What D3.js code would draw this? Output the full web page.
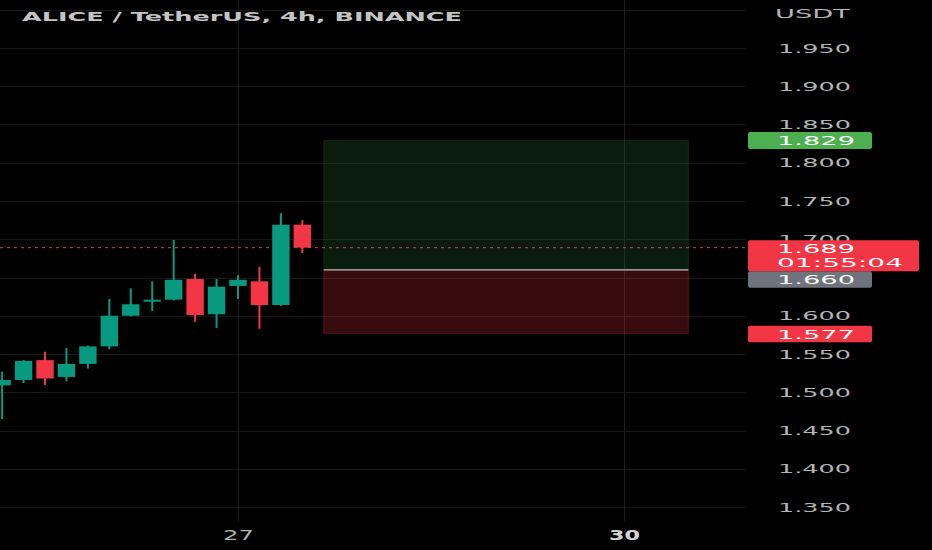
<!DOCTYPE html>
<html>
<head>
<meta charset="utf-8">
<script src="https://cdn.jsdelivr.net/npm/d3@7"></script>
<style>
  html, body { margin: 0; padding: 0; background: #000; overflow: hidden; }
  svg { display: block; }
</style>
</head>
<body>
<svg id="chart" width="932" height="550"></svg>
<script>
// ---------- DATA ----------
const candleTimes = ["2024-01-25T04:00","2024-01-25T08:00","2024-01-25T12:00","2024-01-25T16:00","2024-01-25T20:00",
  "2024-01-26T00:00","2024-01-26T04:00","2024-01-26T08:00","2024-01-26T12:00","2024-01-26T16:00","2024-01-26T20:00",
  "2024-01-27T00:00","2024-01-27T04:00","2024-01-27T08:00","2024-01-27T12:00"];
const opens  = [1.509, 1.516, 1.542, 1.520, 1.537, 1.560, 1.600, 1.619, 1.621, 1.648, 1.602, 1.639, 1.645, 1.614, 1.719];
const highs  = [1.527, 1.542, 1.553, 1.558, 1.561, 1.622, 1.636, 1.645, 1.699, 1.655, 1.648, 1.653, 1.664, 1.734, 1.725];
const lows   = [1.465, 1.512, 1.509, 1.514, 1.531, 1.556, 1.599, 1.606, 1.620, 1.592, 1.584, 1.622, 1.583, 1.613, 1.682];
const closes = [1.516, 1.541, 1.518, 1.537, 1.560, 1.600, 1.615, 1.621, 1.647, 1.601, 1.638, 1.647, 1.614, 1.719, 1.689];

const gridPrices = [1.35, 1.40, 1.45, 1.50, 1.55, 1.60, 1.65, 1.70, 1.75, 1.80, 1.85, 1.90, 1.95, 2.00];
const priceTickLabels = [1.35, 1.40, 1.45, 1.50, 1.55, 1.60, 1.70, 1.75, 1.80, 1.85, 1.90, 1.95];
const dateTicks = ["2024-01-27T00:00", "2024-01-30T00:00"];
const dateTickLabels = ["27", "30"];
const dateTickBold = [false, true];

const title = "ALICE / TetherUS, 4h, BINANCE";
const currency = "USDT";
const lastPrice = 1.689;
const countdown = "01:55:04";
const positionEntry = 1.660;
const positionTarget = 1.829;
const positionStop = 1.577;
const positionStart = "2024-01-27T16:00";
const positionEnd = "2024-01-30T12:00";

// ---------- SETUP ----------
const parse = d3.utcParse("%Y-%m-%dT%H:%M");
const candles = candleTimes.map((t, i) => ({
  t: parse(t), o: opens[i], h: highs[i], l: lows[i], c: closes[i]
}));

const svg = d3.select("#chart");
const W = 932, H = 550;
const plotRight = 746;

svg.append("rect").attr("width", W).attr("height", H).attr("fill", "#000");

const x = d3.scaleUtc()
  .domain([parse("2024-01-27T00:00"), parse("2024-01-30T00:00")])
  .range([238, 624]);
const y = d3.scaleLinear().domain([1.35, 1.95]).range([507, 48]);

const GREEN = "#089981", RED = "#F23645";
const step = x(parse("2024-01-27T04:00")) - x(parse("2024-01-27T00:00"));
const bodyW = step * 0.81;

// ---------- GRID ----------
const grid = svg.append("g").attr("class", "grid").attr("shape-rendering", "crispEdges");
gridPrices.forEach(v => {
  grid.append("rect")
    .attr("x", 0).attr("width", plotRight)
    .attr("y", Math.round(y(v))).attr("height", 1)
    .attr("fill", "#181818");
});
dateTicks.forEach(d => {
  grid.append("rect")
    .attr("x", Math.round(x(parse(d)))).attr("width", 1)
    .attr("y", 0).attr("height", 522)
    .attr("fill", "#1c1c1c");
});

// ---------- POSITION TOOL ----------
const px1 = x(parse(positionStart)), px2 = x(parse(positionEnd));
svg.append("rect")
  .attr("x", px1).attr("width", px2 - px1)
  .attr("y", y(positionTarget)).attr("height", y(positionEntry) - y(positionTarget))
  .attr("fill", "rgba(40,115,45,0.24)").attr("stroke", "rgba(60,130,60,0.22)").attr("stroke-width", 1);
svg.append("rect")
  .attr("x", px1).attr("width", px2 - px1)
  .attr("y", y(positionEntry)).attr("height", y(positionStop) - y(positionEntry))
  .attr("fill", "rgba(225,45,60,0.25)").attr("stroke", "rgba(225,45,60,0.3)").attr("stroke-width", 1);
svg.append("line")
  .attr("x1", px1).attr("x2", px2)
  .attr("y1", y(positionEntry)).attr("y2", y(positionEntry))
  .attr("stroke", "#b8b8b8").attr("stroke-width", 1.2);

// ---------- CURRENT PRICE LINE ----------
svg.append("line")
  .attr("x1", 0).attr("x2", plotRight)
  .attr("y1", y(lastPrice)).attr("y2", y(lastPrice))
  .attr("stroke", "#d0404f").attr("stroke-width", 1)
  .attr("stroke-dasharray", "3,4");

// ---------- CANDLES ----------
const cg = svg.append("g");
const cs = cg.selectAll("g.c").data(candles).join("g").attr("class", "c");
cs.append("line")
  .attr("x1", d => x(d.t)).attr("x2", d => x(d.t))
  .attr("y1", d => y(d.h)).attr("y2", d => y(d.l))
  .attr("stroke", d => d.c >= d.o ? GREEN : RED).attr("stroke-width", 2);
cs.append("rect")
  .attr("x", d => x(d.t) - bodyW / 2).attr("width", bodyW)
  .attr("y", d => y(Math.max(d.o, d.c)))
  .attr("height", d => Math.max(2, Math.abs(y(d.o) - y(d.c))))
  .attr("fill", d => d.c >= d.o ? GREEN : RED);

// ---------- AXES ----------
const FONT = "'DejaVu Sans', Verdana, sans-serif";
const yAxis = d3.axisRight(y).tickValues(priceTickLabels)
  .tickFormat(d3.format(".3f")).tickSize(0).tickPadding(0);
const yg = svg.append("g").attr("transform", "translate(778,0)").call(yAxis);
yg.select(".domain").remove();
yg.selectAll(".tick line").remove();
yg.selectAll("text")
  .attr("fill", "#b4b4b4").attr("font-family", FONT).attr("font-size", 13)
  .attr("textLength", 73).attr("lengthAdjust", "spacingAndGlyphs");

svg.append("text").text(currency)
  .attr("x", 775).attr("y", 18)
  .attr("fill", "#b4b4b4").attr("font-family", FONT).attr("font-size", 13)
  .attr("textLength", 75).attr("lengthAdjust", "spacingAndGlyphs");

const xAxis = d3.axisBottom(x).tickValues(dateTicks.map(parse))
  .tickFormat((d, i) => dateTickLabels[i]).tickSize(0).tickPadding(0);
const xg = svg.append("g").attr("transform", "translate(0,530)").call(xAxis);
xg.select(".domain").remove();
xg.selectAll(".tick line").remove();
xg.selectAll("text")
  .attr("fill", (d, i) => dateTickBold[i] ? "#d4d4d4" : "#b4b4b4")
  .attr("font-family", FONT).attr("font-size", 13.5)
  .attr("font-weight", (d, i) => dateTickBold[i] ? "bold" : "normal")
  .attr("textLength", 31).attr("lengthAdjust", "spacingAndGlyphs");

// ---------- PRICE LABELS ----------
function priceLabel(yc, h, w, fill, lines) {
  const g = svg.append("g");
  g.append("rect").attr("x", 748).attr("y", yc).attr("width", w).attr("height", h)
    .attr("rx", 2).attr("fill", fill);
  lines.forEach(ln => {
    g.append("text").text(ln.t)
      .attr("x", 777).attr("y", yc + ln.dy)
      .attr("fill", "#fff").attr("font-family", FONT).attr("font-size", 13)
      .attr("textLength", ln.len).attr("lengthAdjust", "spacingAndGlyphs");
  });
}
const fmt = d3.format(".3f");
priceLabel(y(positionTarget) - 8.5, 17, 124, "#4CAF50", [{t: fmt(positionTarget), dy: 13, len: 78}]);
priceLabel(y(positionEntry) + 1.5, 16.5, 124, "#70737c", [{t: fmt(positionEntry), dy: 12.8, len: 78}]);
priceLabel(y(positionStop) - 7.5, 16.5, 124, RED, [{t: fmt(positionStop), dy: 12.8, len: 78}]);
priceLabel(y(lastPrice) - 7.5, 31, 171, RED, [
  {t: fmt(lastPrice), dy: 13, len: 78},
  {t: countdown, dy: 27, len: 126}
]);

// ---------- TITLE ----------
svg.append("text").text(title)
  .attr("x", 22).attr("y", 21)
  .attr("fill", "#c4c4c4").attr("font-family", FONT).attr("font-size", 12)
  .attr("font-weight", "bold")
  .attr("textLength", 440).attr("lengthAdjust", "spacingAndGlyphs");
</script>
</body>
</html>
